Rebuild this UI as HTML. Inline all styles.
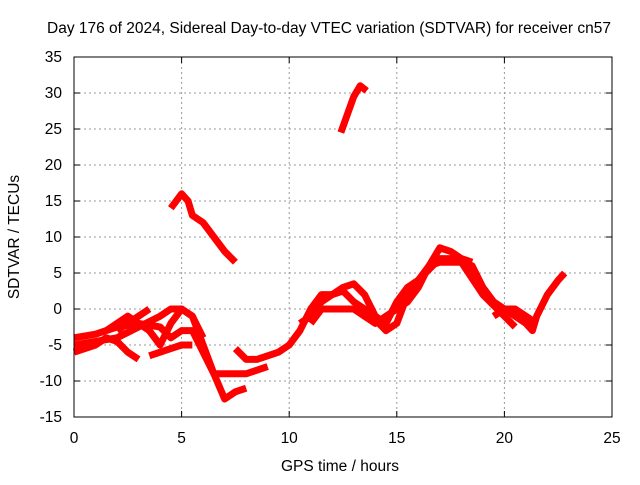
<!DOCTYPE html>
<html><head><meta charset="utf-8"><style>
body{margin:0;background:#fff}
text{font-family:"Liberation Sans",sans-serif;font-size:15.5px;fill:#000}
</style></head><body>
<svg id="chart" width="640" height="480" xmlns="http://www.w3.org/2000/svg">
<text x="329" y="33" text-anchor="middle">Day 176 of 2024, Sidereal Day-to-day VTEC variation (SDTVAR) for receiver cn57</text>
<text x="340" y="471" text-anchor="middle">GPS time / hours</text>
<text transform="translate(19,237) rotate(-90)" text-anchor="middle">SDTVAR / TECUs</text>
<g id="grid"></g><g id="ticks"></g><g id="series"></g>
<rect x="74" y="57" width="538" height="360" fill="none" stroke="#000" stroke-width="1"/>
</svg>
<script>
const xTicks=[0,5,10,15,20,25];
const yTicks=[-15,-10,-5,0,5,10,15,20,25,30,35];
const s1=[[0,-4],[1,-3.5],[1.5,-3],[2,-2.5],[3,-2],[4,-2.5],[4.5,-4],[5,-3],[5.5,-3],[6,-6],[6.5,-9],[7,-9],[7.5,-9],[8,-9],[8.5,-8.5],[9,-8]];
const s2=[[0,-5],[1,-4.5],[2,-4],[3,-2.5],[4,-1],[4.5,0],[5,0],[5.5,-1],[6,-5],[6.5,-9],[7,-12.5],[7.5,-11.5],[8,-11]];
const s3=[[0,-6],[1,-5],[1.5,-4],[2,-4.5],[2.5,-6],[3,-7]];
const s4=[[1.5,-3],[2,-2],[2.5,-1],[3,-2],[3.5,-3],[4,-5],[4.5,-2],[5,0],[5.5,-1],[6,-4]];
const s5=[[2,-3],[3,-1],[3.5,0]];
const s6=[[3.5,-6.5],[4,-6],[4.5,-5.5],[5,-5],[5.5,-5]];
const s7=[[4.5,14],[5,16],[5.3,15],[5.5,13],[6,12],[6.5,10],[7,8],[7.5,6.5]];
const s8=[[7.5,-5.5],[8,-7],[8.5,-7],[9,-6.5],[9.5,-6],[10,-5],[10.5,-3],[11,0],[11.5,2],[12,2],[12.5,3],[13,3.5],[13.5,2],[14,-1],[14.5,-2],[15,1],[15.5,3],[16,4],[16.5,5.5],[17,7],[17.5,7],[18,6.5],[18.5,6],[19,3],[19.5,1],[20,0],[20.5,-1],[21,-2],[21.3,-3],[21.5,-1],[22,2],[22.5,4],[22.8,5]];
const s9=[[10.5,-2],[11,-1],[11.5,1],[12,2],[12.5,2.5],[13,1],[13.5,0],[14,-1.5],[14.5,-3],[15,-2],[15.5,2],[16,4],[16.5,6],[17,8.5],[17.5,8],[18,7],[18.5,6.5]];
const s10=[[11,-2],[11.5,0],[12,0],[12.5,0],[13,0],[13.5,-1],[14,-2],[14.5,-1],[15,0],[15.5,1],[16,3],[16.5,6],[17,6.5],[18,6.5],[19,2],[19.5,0.5],[20,-1],[20.5,-2.5]];
const s11=[[12.4,24.5],[12.7,27],[13,29.5],[13.3,31],[13.6,30.3]];
const s12=[[19.5,-1],[20,0],[20.5,0],[21,-1],[21.5,-2]];
const allSeries=[s1,s2,s3,s4,s5,s6,s7,s8,s9,s10,s11,s12];
const X=v=>74+v*538/25, Y=v=>417-(v+15)*7.2;
const NS="http://www.w3.org/2000/svg";
const mk=(t,a,p)=>{const e=document.createElementNS(NS,t);for(const k in a)e.setAttribute(k,a[k]);p.appendChild(e);return e;};
const grid=document.getElementById('grid'),ticks=document.getElementById('ticks'),ser=document.getElementById('series');
xTicks.forEach(t=>{
 if(t>0&&t<25){const g=mk('line',{x1:X(t),x2:X(t),y1:57,y2:417,stroke:'#999','stroke-dasharray':'2,3'},grid);
 
 }
 mk('line',{x1:X(t),x2:X(t),y1:417,y2:411,stroke:'#000'},ticks);
 mk('line',{x1:X(t),x2:X(t),y1:57,y2:63,stroke:'#000'},ticks);
 const l=mk('text',{x:X(t),y:443,'text-anchor':'middle'},ticks);l.textContent=t;
 
 
});
yTicks.forEach(t=>{
 if(t>-15&&t<35){const g=mk('line',{x1:74,x2:612,y1:Y(t),y2:Y(t),stroke:'#999','stroke-dasharray':'2,3'},grid);
 
 }
 mk('line',{x1:74,x2:80,y1:Y(t),y2:Y(t),stroke:'#000'},ticks);
 mk('line',{x1:606,x2:612,y1:Y(t),y2:Y(t),stroke:'#000'},ticks);
 const l=mk('text',{x:62,y:Y(t)+5,'text-anchor':'end'},ticks);l.textContent=t;
 
 
});
allSeries.forEach((s,i)=>{
 const p=mk('polyline',{points:s.map(d=>X(d[0])+','+Y(d[1])).join(' '),fill:'none',stroke:'#f00','stroke-width':7,'stroke-linejoin':'round'},ser);
 
 
});
</script>
</body></html>
